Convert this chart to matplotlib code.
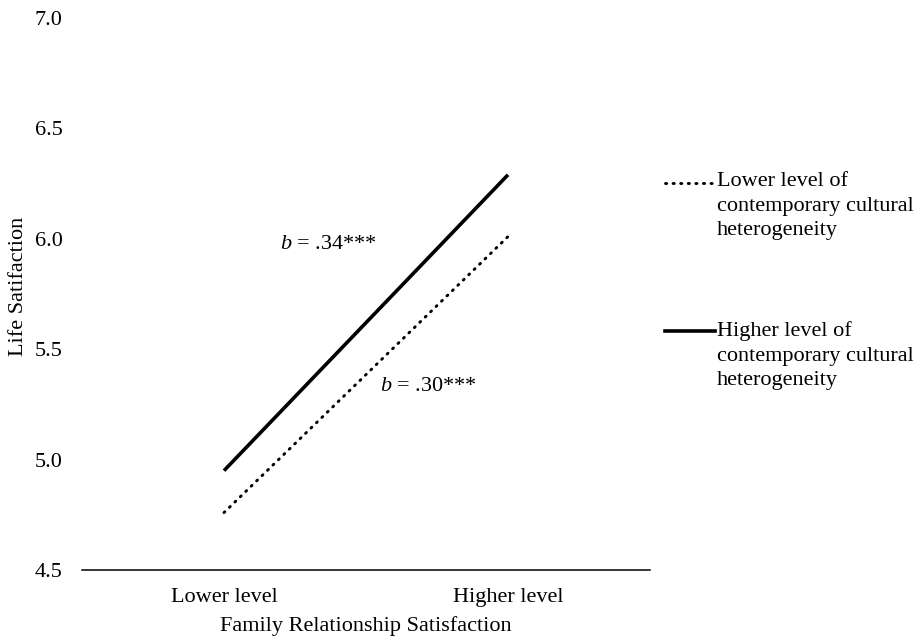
import matplotlib.pyplot as plt
from matplotlib.lines import Line2D

plt.rcParams['font.family'] = ['Liberation Serif', 'DejaVu Serif']
plt.rcParams['mathtext.fontset'] = 'custom'
plt.rcParams['mathtext.it'] = 'Liberation Serif:italic'
plt.rcParams['mathtext.rm'] = 'Liberation Serif'

# data
levels = ['Lower level', 'Higher level']
low_het = [4.76, 6.01]
high_het = [4.95, 6.29]
low_label = 'Lower level of\ncontemporary cultural\nheterogeneity'
high_label = 'Higher level of\ncontemporary cultural\nheterogeneity'
yticks = [4.5, 5.0, 5.5, 6.0, 6.5, 7.0]

fs = 16

fig = plt.figure(figsize=(9.21, 6.38), dpi=100)
ax = fig.add_axes([82/921, 1 - 570/638, (650 - 82)/921, (570 - 18)/638])

x = [0, 1]
ax.plot(x, low_het, color='black', lw=2.1, linestyle=(0, (0.4, 2.2)),
        dash_capstyle='round')
ax.plot(x, high_het, color='black', lw=2.6, solid_capstyle='butt')

ax.set_xlim(-0.5, 1.5)
ax.set_ylim(4.5, 7.0)
ax.set_yticks(yticks)
ax.set_yticklabels(['%.1f' % v for v in yticks])
ax.set_xticks(x)
ax.set_xticklabels(levels)
ax.tick_params(axis='both', length=0, labelsize=fs)
ax.tick_params(axis='y', pad=14)
ax.tick_params(axis='x', pad=13)
for s in ['top', 'right', 'left']:
    ax.spines[s].set_visible(False)
ax.spines['bottom'].set_linewidth(1.1)

ax.set_xlabel('Family Relationship Satisfaction', fontsize=fs)
ax.xaxis.set_label_coords(0.5, -(626 - 570) / 552, transform=ax.transAxes)
ax.xaxis.label.set_va('center')
ax.set_ylabel('Life Satifaction', fontsize=fs)
ax.yaxis.set_label_coords(-(82 - 19) / 568, (570 - 286) / 552)
ax.yaxis.label.set_va('center')

ax.text(0.197, 5.975, r'$b$ = .34***', fontsize=fs, va='center')
ax.text(0.55, 5.33, r'$b$ = .30***', fontsize=fs, va='center')

# legend drawn by hand (handle sits on the first text line)
fig.add_artist(Line2D([665/921, 713/921], [1 - 183/638] * 2, color='black',
                      lw=2.1, linestyle=(0, (0.4, 2.2)), dash_capstyle='round'))
fig.add_artist(Line2D([665/921, 715/921], [1 - 331/638] * 2, color='black',
                      lw=2.6))
fig.text(717/921, 1 - 172/638, low_label, fontsize=fs, va='top',
         ha='left', linespacing=1.4)
fig.text(717/921, 1 - 321/638, high_label, fontsize=fs, va='top',
         ha='left', linespacing=1.4)

fig.savefig('out.png', dpi=100)
